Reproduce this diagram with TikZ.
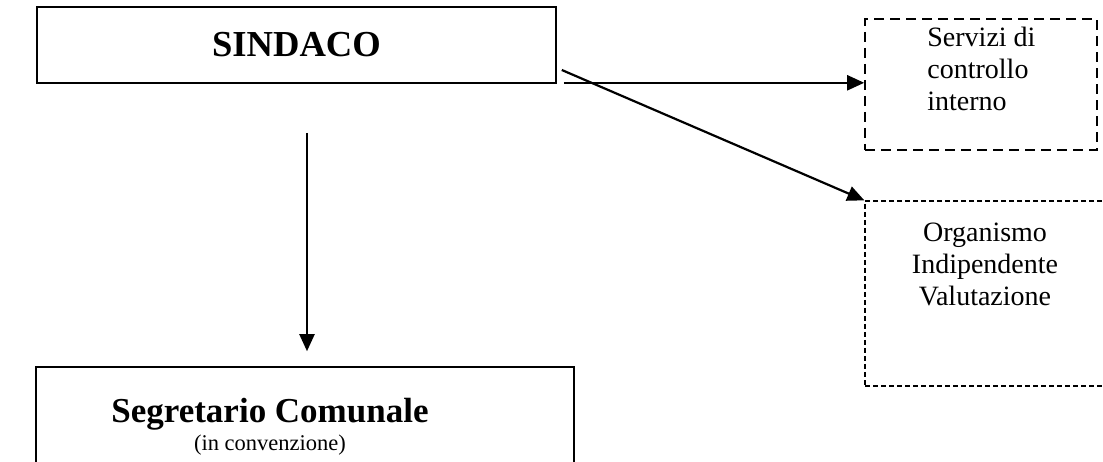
\documentclass[tikz,border=0pt]{standalone}
\usepackage{fontspec}
\setmainfont{Liberation Serif}
\usetikzlibrary{arrows.meta, positioning, calc}

\begin{document}
\begin{tikzpicture}[x=1pt, y=-1pt,
    box/.style={rectangle, draw, line width=1.6pt, inner sep=0pt},
    headbox/.style={box, minimum width=519pt, minimum height=76pt,
                    font=\fontsize{36.6}{40}\selectfont\bfseries},
    segbox/.style={box, minimum width=538pt, minimum height=110pt},
    ctrlbox/.style={box, minimum width=232pt, minimum height=131pt,
                    dash pattern=on 10pt off 6pt},
    oivbox/.style={box, line width=1.3pt, minimum width=250pt, minimum height=185pt,
                   dash pattern=on 5pt off 3pt},
    boxtxt/.style={inner sep=0pt, font=\fontsize{28}{32}\selectfont},
    arr/.style={-{Triangle[length=17pt,width=15pt]}, line width=2.2pt}
  ]
  \clip (0,0) rectangle (1103,462);

  \node[headbox] (sindaco) at (296.5,45) {SINDACO};
  \node[segbox] (segr) at (305,422) {};
  \node[ctrlbox] (servizi) at (981,84.5) {};
  \node[oivbox] (oiv) at (990,293.5) {};

  \node[boxtxt, align=left, anchor=north west] (servtxt)
    at ([xshift=63pt,yshift=-9pt]servizi.north west) {Servizi di\\controllo\\interno};
  \node[boxtxt, align=center] (oivtxt) at (985,264) {Organismo\\Indipendente\\Valutazione};
  \node[inner sep=0pt, align=center, anchor=north] (segrtxt) at (270,398)
    {{\fontsize{35}{40}\selectfont\bfseries Segretario Comunale}\\[4pt]
     {\fontsize{22.5}{27}\selectfont (in convenzione)}};

  % connectors
  \coordinate (vtop) at ([xshift=10.5pt,yshift=-49pt]sindaco.south);
  \coordinate (vend) at ([yshift=15pt]segr.north -| vtop);
  \draw[arr] (vtop) -- (vend);
  \coordinate (hstart) at ([xshift=7pt,yshift=1pt]sindaco.south east);
  \draw[arr] (hstart) -- (hstart -| servizi.west);
  \draw[arr] ([xshift=5pt,yshift=-25pt]sindaco.east) -- (oiv.north west);
\end{tikzpicture}
\end{document}
